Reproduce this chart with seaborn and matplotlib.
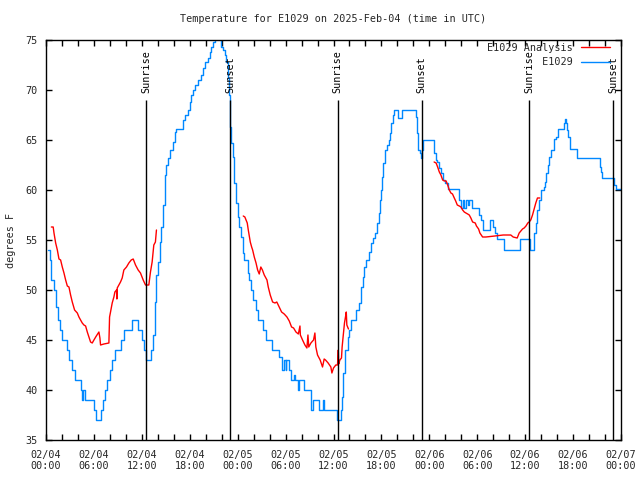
import numpy as np
import pandas as pd
import matplotlib
matplotlib.use("Agg")
import matplotlib.pyplot as plt
import seaborn as sns
from matplotlib.lines import Line2D

# ---------------- data (hours since 2025-02-04 00:00 UTC) ----------------
blue_hours = [0.25, 0.5, 0.67, 1.0, 1.29, 1.5, 1.71, 2.04, 2.58, 2.875, 3.29, 3.58, 4.33, 4.54,
              4.67, 4.92, 6.0, 6.25, 6.92, 7.17, 7.375, 7.67, 7.96, 8.29, 8.625, 9.33, 9.75,
              10.79, 11.54, 11.96, 12.25, 12.5, 13.2, 13.42, 13.625, 13.83, 14.04, 14.25, 14.46,
              14.67, 14.875, 15.08, 15.29, 15.5, 15.92, 16.125, 16.33, 17.17, 17.375, 17.79, 18.0,
              18.21, 18.42, 18.625, 19.04, 19.46, 19.67, 19.875, 20.29, 20.5, 20.71, 20.92, 21.125,
              21.5, 21.75, 21.96, 22.17, 22.375, 22.58, 22.79, 22.92, 23.0, 23.08, 23.17, 23.375, 23.58,
              23.79, 24.0, 24.2, 24.42, 24.625, 24.83, 25.25, 25.46, 25.67, 25.875, 26.3, 26.6,
              27.125, 27.54, 28.25, 29.2, 29.5, 29.6, 29.8, 30.0, 30.1, 30.46, 30.67, 31.0, 31.2,
              31.5, 31.7, 32.3, 33.17, 33.46, 34.2, 34.625, 34.83, 36.5, 36.96, 37.08, 37.25, 37.5,
              37.8, 38.0, 38.2, 38.83, 39.2, 39.46, 39.67, 39.875, 40.1, 40.42, 40.7, 41.0, 41.25,
              41.4, 41.67, 41.83, 41.96, 42.08, 42.25, 42.46, 42.67, 42.9, 43.08, 43.25, 43.4,
              43.625, 44.1, 44.35, 44.58, 46.1, 46.3, 46.46, 46.6, 46.8, 46.95, 47.08, 47.17, 48.4,
              48.6, 48.83, 49.0, 49.25, 49.45, 49.67, 49.9, 50.29, 51.67, 51.96, 52.2, 52.4, 52.6,
              52.8, 53.0, 53.4, 54.25, 54.46, 54.67, 55.6, 56.0, 56.25, 56.42, 57.375, 59.33, 60.6,
              61.125, 61.33, 61.46, 61.67, 61.96, 62.3, 62.5, 62.67, 62.8, 63.0, 63.2, 63.625,
              63.9, 64.17, 64.8, 64.96, 65.1, 65.25, 65.4, 65.58, 66.5, 69.33, 69.45, 69.58, 71.125,
              71.33, 72.0]
blue_temps = [54.0, 53.0, 51.0, 50.0, 48.3, 47.0, 46.0, 45.0, 44.0, 43.0, 42.0, 41.0, 40.0, 39.0,
              40.0, 39.0, 38.0, 37.0, 38.0, 39.0, 40.0, 41.0, 42.0, 43.0, 44.0, 45.0, 46.0,
              47.0, 46.0, 45.0, 44.0, 43.0, 44.0, 45.5, 48.8, 51.5, 52.8, 54.8, 56.3,
              58.5, 61.5, 62.5, 63.2, 64.0, 64.8, 65.8, 66.1, 67.0, 67.5, 68.0, 68.8,
              69.5, 70.0, 70.5, 71.0, 71.5, 72.2, 72.8, 73.2, 73.8, 74.3, 74.8, 75.5,
              75.8, 75.2, 74.3, 74.0, 73.5, 72.8, 71.2, 69.5, 68.0, 66.3, 64.7, 63.3, 60.7,
              58.7, 57.3, 56.3, 55.3, 53.7, 53.0, 51.7, 51.0, 50.0, 49.0, 48.0, 47.0,
              46.0, 45.0, 44.0, 43.3, 42.8, 42.0, 43.0, 42.0, 43.0, 42.0, 41.0, 41.5, 41.0,
              40.0, 41.0, 40.0, 38.0, 39.0, 38.0, 39.0, 38.0, 37.0, 38.0, 39.3, 41.7, 44.0,
              45.3, 46.0, 47.0, 48.0, 48.7, 50.3, 51.3, 52.3, 53.0, 53.8, 54.7, 55.2, 55.7,
              56.7, 57.7, 59.0, 60.0, 61.3, 62.7, 64.0, 64.5, 65.0, 65.7, 66.7, 67.5,
              68.0, 67.2, 67.2, 68.0, 68.0, 67.3, 65.7, 64.0, 63.7, 63.2, 64.0, 65.0, 65.0,
              63.7, 63.0, 62.8, 62.2, 61.7, 61.0, 60.7, 60.1, 59.0, 58.2, 59.0, 58.2, 59.0,
              58.5, 59.0, 58.2, 57.5, 57.0, 56.0, 57.0, 56.3, 55.7, 55.1, 54.0, 55.1, 54.0,
              55.7, 56.7, 58.0, 59.0, 60.0, 60.3, 60.8, 61.7, 62.5, 63.3, 64.0, 65.1,
              65.3, 66.1, 66.7, 67.1, 66.7, 66.0, 65.3, 64.1, 63.2, 62.3, 61.8, 61.2, 60.5,
              60.1, 60.1]

nan = float("nan")
red_hours = [0.67, 0.9, 1.0, 1.21, 1.42, 1.625, 1.83, 2.04, 2.25, 2.46, 2.67, 2.875, 3.08, 3.29,
             3.58, 3.92, 4.125, 4.33, 4.54, 4.75, 4.96, 5.17, 5.375, 5.58, 5.79, 6.0, 6.3, 6.625,
             6.75, 6.83, 7.25, 7.875, 7.96, 8.08, 8.29, 8.5, 8.625, 8.83, 8.875, 8.92, 9.125, 9.33,
             9.54, 9.75, 10.08, 10.375, 10.67, 10.92, 11.21, 11.54, 11.83, 12.17, 12.46, 12.875,
             13.08, 13.29, 13.5, 13.7, 13.83, nan,
             24.7, 24.9, 25.2, 25.33, 25.58, 25.75, 25.875, 26.08, 26.3, 26.5, 26.7, 26.9, 27.1,
             27.33, 27.67, 27.83, 28.08, 28.375, 28.67, 28.9, 29.2, 29.5, 29.83, 30.17, 30.46,
             30.75, 31.0, 31.3, 31.6, 31.8, 31.85, 32.125, 32.42, 32.67, 32.8, 32.9, 33.17, 33.5,
             33.67, 33.79, 34.0, 34.33, 34.625, 34.83, 35.0, 35.33, 35.67, 35.8, 36.0, 36.29, 36.5,
             36.6, 36.65, 36.8, 37.0, 37.08, 37.25, 37.375, 37.5, 37.6, 37.67, 37.875, nan,
             48.6, 48.85, 49.04, 49.25, 49.45, 49.67, 49.9, 50.1, 50.3, 50.5, 50.7, 50.9, 51.125,
             51.3, 51.5, 51.75, 51.96, 52.17, 52.375, 52.58, 52.8, 53.0, 53.2, 53.42, 53.75, 53.9,
             54.17, 54.33, 54.67, 55.08, 56.2, 57.25, 58.2, 58.5, 59.0, 59.25, 59.67, 59.875, 60.1,
             60.33, 60.5, 60.7, 60.92, 61.125, 61.33, 61.54, 61.83]
red_temps = [56.3, 56.3, 55.7, 54.7, 54.0, 53.1, 53.0, 52.3, 51.7, 51.0, 50.4, 50.3, 49.5, 48.8,
             48.0, 47.7, 47.3, 47.0, 46.7, 46.5, 46.4, 45.8, 45.3, 44.8, 44.7, 45.0, 45.4, 45.8,
             45.2, 44.5, 44.6, 44.7, 47.3, 47.8, 48.7, 49.3, 49.8, 50.0, 49.1, 50.2, 50.5, 50.8,
             51.2, 52.0, 52.3, 52.7, 53.0, 53.1, 52.5, 52.0, 51.7, 51.0, 50.5, 50.5,
             51.8, 52.8, 54.5, 54.8, 56.0, nan,
             57.4, 57.3, 56.7, 56.0, 54.8, 54.3, 54.0, 53.3, 52.7, 52.0, 51.6, 52.3, 52.0,
             51.5, 51.0, 50.3, 49.5, 48.8, 48.7, 48.8, 48.3, 47.8, 47.6, 47.3, 46.9,
             46.3, 46.2, 45.8, 45.6, 46.4, 45.5, 45.0, 44.5, 44.2, 45.5, 44.3, 44.7, 45.0,
             45.7, 44.3, 43.5, 43.0, 42.3, 43.1, 43.0, 42.7, 42.3, 41.7, 42.2, 42.5, 42.5,
             44.0, 42.6, 43.0, 43.2, 44.3, 45.7, 46.7, 47.3, 47.8, 46.5, 46.1, nan,
             62.8, 62.7, 62.3, 61.8, 61.5, 61.0, 60.9, 60.9, 60.5, 60.0, 59.7, 59.6, 59.2,
             58.9, 58.5, 58.4, 58.3, 58.0, 57.8, 57.7, 57.6, 57.5, 57.2, 56.8, 56.7, 56.4,
             56.1, 55.7, 55.3, 55.3, 55.4, 55.5, 55.5, 55.3, 55.2, 55.7, 56.1, 56.2, 56.4,
             56.7, 56.8, 57.0, 57.5, 58.1, 58.7, 59.2, 59.2]

sun_hours = [12.54, 23.04, 36.54, 47.04, 60.54, 71.04]
sun_labels = ["Sunrise", "Sunset", "Sunrise", "Sunset", "Sunrise", "Sunset"]

xtick_hours = list(range(0, 73, 6))
xtick_labels = ["02/04\n00:00", "02/04\n06:00", "02/04\n12:00", "02/04\n18:00",
                "02/05\n00:00", "02/05\n06:00", "02/05\n12:00", "02/05\n18:00",
                "02/06\n00:00", "02/06\n06:00", "02/06\n12:00", "02/06\n18:00",
                "02/07\n00:00"]
ytick_values = [35, 40, 45, 50, 55, 60, 65, 70, 75]

title = "Temperature for E1029 on 2025-Feb-04 (time in UTC)"
series_names = ["E1029 Analysis", "E1029"]
RED = "#ff0000"
BLUE = "#0088ff"

# ---------------- plotting ----------------
sns.set_style("ticks")
plt.rcParams["font.family"] = ["DejaVu Sans Mono"]
FS = 7.3

fig = plt.figure(figsize=(6.4, 4.8), dpi=100)
ax = fig.add_axes([46 / 640, 40 / 480, 575 / 640, 400 / 480])

sns.lineplot(x=blue_hours, y=blue_temps, ax=ax, color=BLUE, lw=1.0,
             drawstyle="steps-post", estimator=None, sort=False)

red_df = pd.DataFrame({"hour": red_hours, "temp": red_temps})
red_df["seg"] = red_df["temp"].isna().cumsum()
red_df = red_df.dropna()
sns.lineplot(data=red_df, x="hour", y="temp", units="seg", estimator=None,
             sort=False, color=RED, lw=1.0, ax=ax)

ax.vlines(sun_hours, 35, 69, color="black", lw=1.0, zorder=3)
for h, lab in zip(sun_hours, sun_labels):
    ax.text(h, 69.7, lab, rotation=90, ha="center", va="bottom", fontsize=FS,
            color="black", zorder=4)

ax.set_xlim(0, 72)
ax.set_ylim(35, 75)
ax.set_xticks(xtick_hours)
ax.set_xticklabels(xtick_labels, fontsize=FS)
ax.set_xticks(range(0, 73, 2), minor=True)
ax.set_yticks(ytick_values)
ax.set_yticklabels([str(v) for v in ytick_values], fontsize=FS)
ax.tick_params(which="both", direction="in", length=4, width=1, top=True, right=True,
               color="black")
ax.tick_params(axis="x", which="major", pad=7)
ax.tick_params(axis="y", which="major", pad=6)
for s in ax.spines.values():
    s.set_visible(True)
    s.set_color("black")
    s.set_linewidth(1.0)

ax.set_xlabel("")
ax.set_ylabel("degrees F", fontsize=FS)
ax.yaxis.set_label_coords(-(46 - 16) / 575, 0.5)

fig.text((46 + 621) / 2 / 640, 1 - 19 / 480, title, ha="center", va="center", fontsize=FS)

handles = [Line2D([], [], color=RED, lw=1.0), Line2D([], [], color=BLUE, lw=1.0)]
width = max(len(n) for n in series_names)
labels = [n.rjust(width) for n in series_names]
ax.legend(handles, labels, loc="upper right", bbox_to_anchor=(0.986, 1.0),
          frameon=False, markerfirst=False, fontsize=FS, handlelength=2.9,
          handletextpad=0.8, borderaxespad=0.0, borderpad=0.3, labelspacing=0.4)

fig.savefig("out.png", dpi=100)
